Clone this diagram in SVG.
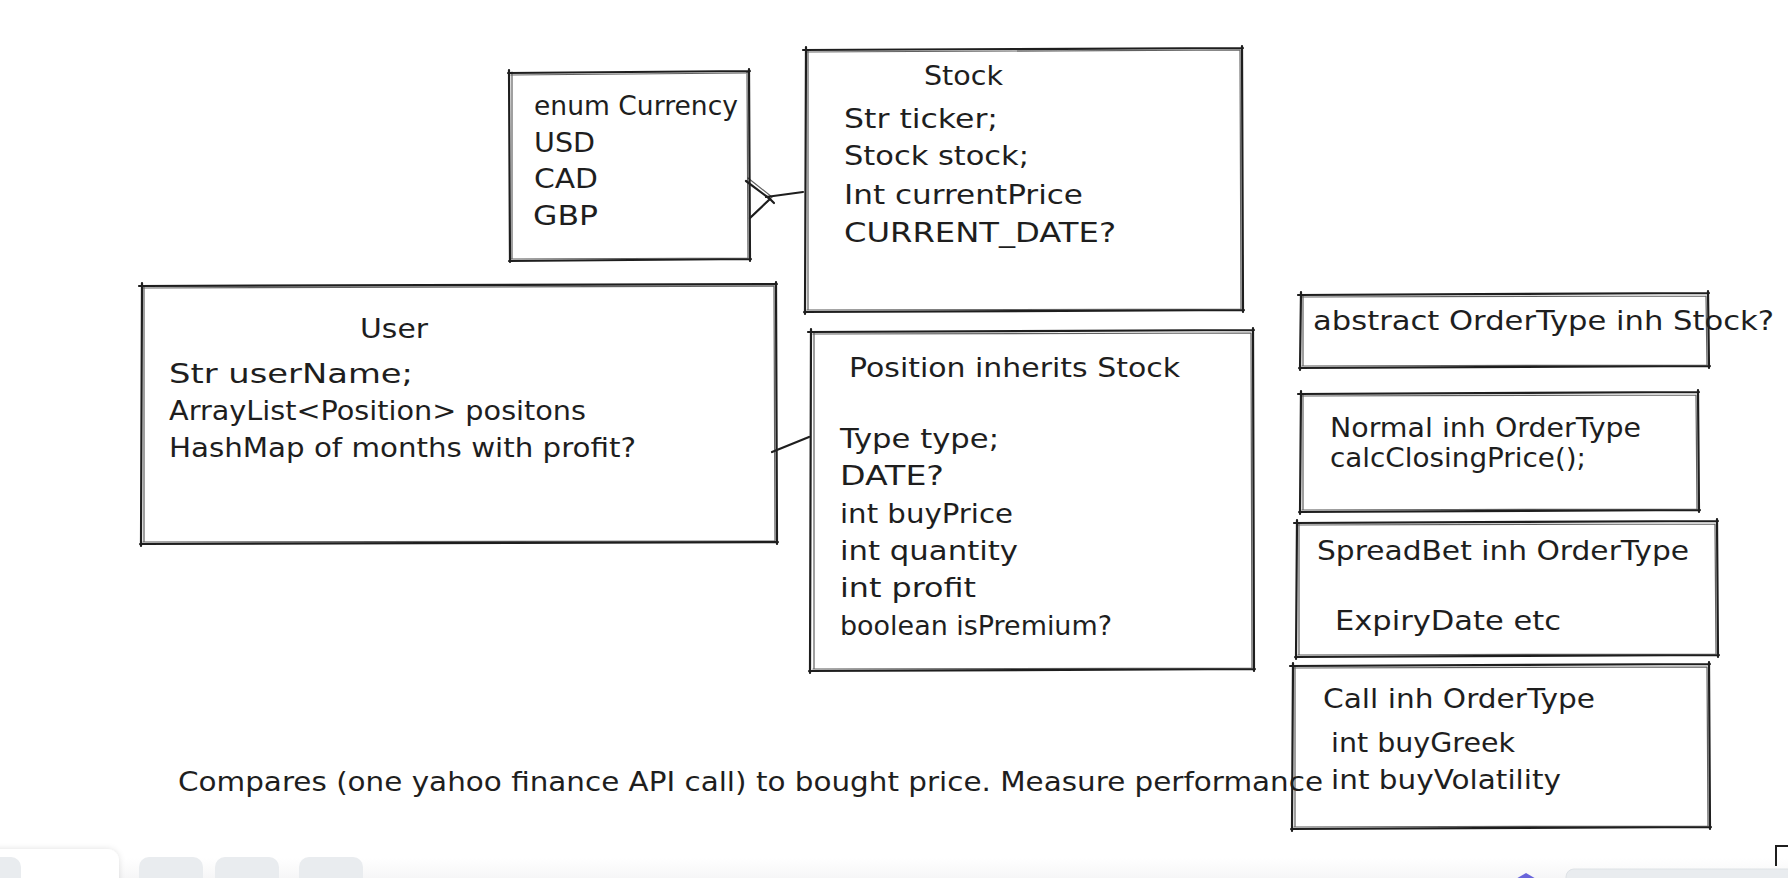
<svg xmlns="http://www.w3.org/2000/svg" width="1788" height="878" viewBox="0 0 1788 878">
<defs>
<style>
.b1{fill:none;stroke:#1e1e1e;stroke-width:2.2;stroke-linecap:round;stroke-linejoin:round}
.b2{fill:none;stroke:#1e1e1e;stroke-width:1.2;stroke-linecap:round;opacity:.7}
.c{fill:none;stroke:#1e1e1e;stroke-width:2.2;stroke-linecap:round;stroke-linejoin:round}
.t{font-family:"DejaVu Sans","Liberation Sans",sans-serif;font-size:27px;fill:#1e1e1e}
.ub{fill:#e9ecef}
</style>
<linearGradient id="band" x1="0" y1="0" x2="0" y2="1">
<stop offset="0" stop-color="#ffffff"/>
<stop offset="1" stop-color="#f6f6f7"/>
</linearGradient>
<filter id="sh" x="-20%" y="-50%" width="140%" height="200%">
<feDropShadow dx="0" dy="0" stdDeviation="3" flood-color="#000" flood-opacity="0.12"/>
</filter>
</defs>
<rect width="1788" height="878" fill="#ffffff"/>

<g id="connectors">
<path class="c" d="M746 181 L770 199 L750 218"/>
<path class="b2" d="M748 178 L772 197 L752 216"/>
<path class="c" d="M766 197 L803 192 M768 197 L774 203"/>
<path class="c" d="M772 452 L809 437"/>
</g>

<g id="node-currency">
<path class="b1" d="M508 73 L750 71 M749 69 L750 261 M751 259 L509 261 M510 262 L509 70"/>
<path class="b2" d="M511 75 L748 73 M747 72 L748 258 M748 258 L511 259 M512 259 L512 72"/>
<text class="t" x="534" y="115" textLength="204" lengthAdjust="spacingAndGlyphs">enum Currency</text>
<text class="t" x="534" y="152" textLength="61" lengthAdjust="spacingAndGlyphs">USD</text>
<text class="t" x="534" y="188" textLength="64" lengthAdjust="spacingAndGlyphs">CAD</text>
<text class="t" x="533" y="225" textLength="65" lengthAdjust="spacingAndGlyphs">GBP</text>
</g>

<g id="node-stock">
<path class="b1" d="M803 50 L1243 48 M1242 46 L1243 312 M1244 310 L804 312 M805 314 L806 47"/>
<path class="b2" d="M806 52 L1240 50 M1240 50 L1241 309 M1241 309 L807 310 M808 310 L808 50"/>
<text class="t" x="924" y="85" textLength="79" lengthAdjust="spacingAndGlyphs">Stock</text>
<text class="t" x="844" y="128" textLength="154" lengthAdjust="spacingAndGlyphs">Str ticker;</text>
<text class="t" x="844" y="165" textLength="185" lengthAdjust="spacingAndGlyphs">Stock stock;</text>
<text class="t" x="844" y="204" textLength="239" lengthAdjust="spacingAndGlyphs">Int currentPrice</text>
<text class="t" x="844" y="242" textLength="272" lengthAdjust="spacingAndGlyphs">CURRENT_DATE?</text>
</g>

<g id="node-user">
<path class="b1" d="M139 286 L777 284 M776 282 L777 544 M778 542 L140 544 M141 546 L142 283"/>
<path class="b2" d="M143 288 L774 286 M774 286 L775 541 M775 541 L143 542 M144 542 L144 287"/>
<text class="t" x="360" y="338" textLength="68" lengthAdjust="spacingAndGlyphs">User</text>
<text class="t" x="169" y="383" textLength="244" lengthAdjust="spacingAndGlyphs">Str userName;</text>
<text class="t" x="169" y="420" textLength="417" lengthAdjust="spacingAndGlyphs">ArrayList&lt;Position&gt; positons</text>
<text class="t" x="169" y="457" textLength="467" lengthAdjust="spacingAndGlyphs">HashMap of months with profit?</text>
</g>

<g id="node-position">
<path class="b1" d="M808 332 L1254 330 M1253 328 L1254 671 M1255 669 L809 671 M810 673 L811 329"/>
<path class="b2" d="M813 334 L1251 333 M1251 333 L1252 668 M1252 668 L813 669 M814 669 L814 333"/>
<text class="t" x="849" y="377" textLength="331" lengthAdjust="spacingAndGlyphs">Position inherits Stock</text>
<text class="t" x="840" y="448" textLength="159" lengthAdjust="spacingAndGlyphs">Type type;</text>
<text class="t" x="840" y="485" textLength="104" lengthAdjust="spacingAndGlyphs">DATE?</text>
<text class="t" x="840" y="523" textLength="173" lengthAdjust="spacingAndGlyphs">int buyPrice</text>
<text class="t" x="840" y="560" textLength="178" lengthAdjust="spacingAndGlyphs">int quantity</text>
<text class="t" x="840" y="597" textLength="136" lengthAdjust="spacingAndGlyphs">int profit</text>
<text class="t" x="840" y="635" textLength="272" lengthAdjust="spacingAndGlyphs">boolean isPremium?</text>
</g>

<g id="node-ordertype">
<path class="b1" d="M1298 295 L1709 293 M1708 291 L1709 368 M1710 366 L1299 368 M1300 370 L1301 292"/>
<path class="b2" d="M1302 297 L1706 296 M1706 296 L1707 365 M1707 365 L1302 366 M1303 366 L1303 296"/>
<text class="t" x="1313" y="330" textLength="461" lengthAdjust="spacingAndGlyphs">abstract OrderType inh Stock?</text>
</g>

<g id="node-normal">
<path class="b1" d="M1298 394 L1699 392 M1698 390 L1699 512 M1700 510 L1299 512 M1300 514 L1301 391"/>
<path class="b2" d="M1302 396 L1696 395 M1696 395 L1697 509 M1697 509 L1302 510 M1303 510 L1303 395"/>
<text class="t" x="1330" y="437" textLength="311" lengthAdjust="spacingAndGlyphs">Normal inh OrderType</text>
<text class="t" x="1330" y="467" textLength="256" lengthAdjust="spacingAndGlyphs">calcClosingPrice();</text>
</g>

<g id="node-spreadbet">
<path class="b1" d="M1294 523 L1718 521 M1717 519 L1718 657 M1719 655 L1295 657 M1296 659 L1297 520"/>
<path class="b2" d="M1298 525 L1715 524 M1715 524 L1716 654 M1716 654 L1298 655 M1299 655 L1299 524"/>
<text class="t" x="1317" y="560" textLength="372" lengthAdjust="spacingAndGlyphs">SpreadBet inh OrderType</text>
<text class="t" x="1335" y="630" textLength="226" lengthAdjust="spacingAndGlyphs">ExpiryDate etc</text>
</g>

<g id="node-call">
<path class="b1" d="M1290 666 L1710 664 M1709 662 L1710 829 M1711 827 L1291 829 M1292 831 L1293 663"/>
<path class="b2" d="M1294 668 L1707 667 M1707 667 L1708 826 M1708 826 L1294 827 M1295 827 L1295 667"/>
<text class="t" x="1323" y="708" textLength="272" lengthAdjust="spacingAndGlyphs">Call inh OrderType</text>
<text class="t" x="1331" y="752" textLength="184" lengthAdjust="spacingAndGlyphs">int buyGreek</text>
<text class="t" x="1331" y="789" textLength="230" lengthAdjust="spacingAndGlyphs">int buyVolatility</text>
</g>

<g id="note">
<text class="t" x="178" y="791" textLength="1145" lengthAdjust="spacingAndGlyphs">Compares (one yahoo finance API call) to bought price. Measure performance</text>
</g>

<g id="ui">
<rect x="0" y="858" width="1788" height="20" fill="url(#band)"/>
<rect x="-20" y="849" width="139" height="50" rx="12" fill="#ffffff" filter="url(#sh)"/>
<rect class="ub" x="-20" y="857" width="41" height="40" rx="10"/>
<rect class="ub" x="139" y="857" width="64" height="40" rx="10"/>
<rect class="ub" x="215" y="857" width="64" height="40" rx="10"/>
<rect class="ub" x="299" y="857" width="64" height="40" rx="10"/>
<path d="M1776 866 L1776 846 L1790 846" fill="none" stroke="#1e1e1e" stroke-width="2"/>
<path d="M1514 880 L1526 873 L1538 880 Z" fill="#6965db"/>
<rect x="1566" y="869" width="240" height="30" rx="8" fill="#e9ecef" stroke="#dee2e6"/>
</g>
</svg>
